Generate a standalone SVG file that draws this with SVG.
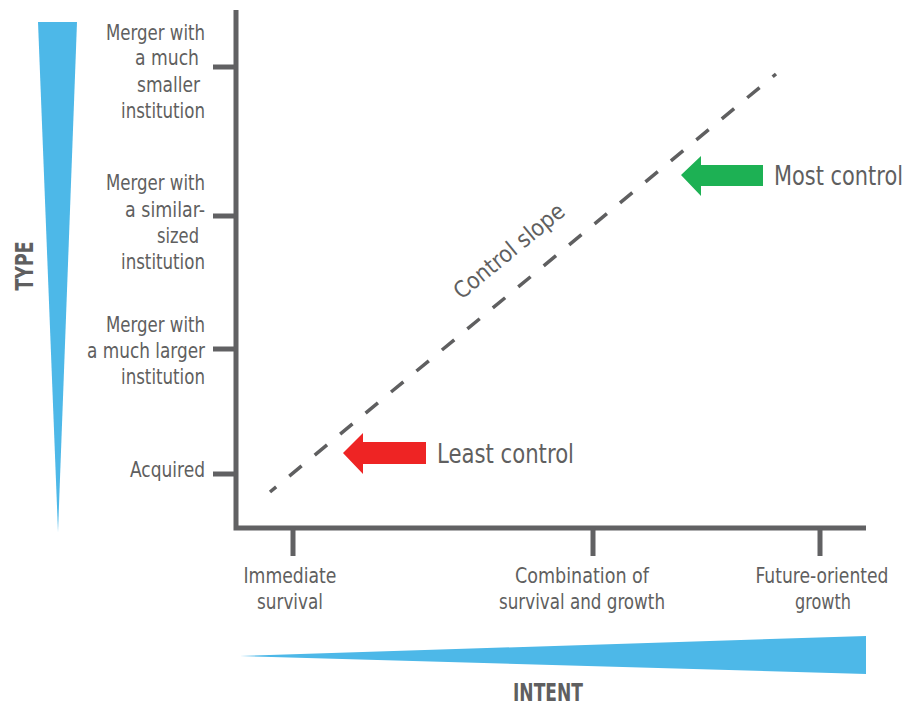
<svg xmlns="http://www.w3.org/2000/svg" width="911" height="707" viewBox="0 0 911 707">
<style>
.lbl{font-family:"DejaVu Sans Condensed","Liberation Sans",sans-serif;font-size:21px;fill:#5f5f60}
.r{text-anchor:end}
.c{text-anchor:middle}
.big{font-size:26px}
.bold{font-family:"DejaVu Sans Condensed","Liberation Sans",sans-serif;font-weight:bold;font-size:25px;fill:#5f5f60}
.axis{stroke:#616163;stroke-width:5;fill:none}
.tick{stroke:#616163;stroke-width:5}
</style>
<rect width="911" height="707" fill="#ffffff"/>
<g id="type-wedge"><polygon points="38,22 77,22 58,532" fill="#4DB8E8"/></g>
<g id="intent-wedge"><polygon points="240,656 866,636 866,674" fill="#4DB8E8"/></g>
<g id="axes">
<polyline class="axis" points="236,10 236,528 866,528"/>
<line class="tick" x1="213" y1="67" x2="236" y2="67"/>
<line class="tick" x1="213" y1="216" x2="236" y2="216"/>
<line class="tick" x1="213" y1="349" x2="236" y2="349"/>
<line class="tick" x1="213" y1="474" x2="236" y2="474"/>
<line class="tick" x1="293" y1="528" x2="293" y2="556"/>
<line class="tick" x1="593" y1="528" x2="593" y2="556"/>
<line class="tick" x1="820" y1="528" x2="820" y2="556"/>
</g>
<g id="type-labels">
<text class="lbl r" x="205" y="40" textLength="99" lengthAdjust="spacingAndGlyphs">Merger with</text>
<text class="lbl r" x="199" y="65" textLength="64" lengthAdjust="spacingAndGlyphs">a much</text>
<text class="lbl r" x="200" y="92" textLength="63" lengthAdjust="spacingAndGlyphs">smaller</text>
<text class="lbl r" x="205" y="118" textLength="84" lengthAdjust="spacingAndGlyphs">institution</text>
<text class="lbl r" x="205" y="190" textLength="99" lengthAdjust="spacingAndGlyphs">Merger with</text>
<text class="lbl r" x="205" y="217" textLength="80" lengthAdjust="spacingAndGlyphs">a similar-</text>
<text class="lbl r" x="199" y="243" textLength="42" lengthAdjust="spacingAndGlyphs">sized</text>
<text class="lbl r" x="205" y="269" textLength="84" lengthAdjust="spacingAndGlyphs">institution</text>
<text class="lbl r" x="205" y="332" textLength="99" lengthAdjust="spacingAndGlyphs">Merger with</text>
<text class="lbl r" x="205" y="358" textLength="118" lengthAdjust="spacingAndGlyphs">a much larger</text>
<text class="lbl r" x="205" y="384" textLength="84" lengthAdjust="spacingAndGlyphs">institution</text>
<text class="lbl r" x="205" y="477" textLength="75" lengthAdjust="spacingAndGlyphs">Acquired</text>
</g>
<g id="intent-labels">
<text class="lbl c" x="290" y="583" textLength="93" lengthAdjust="spacingAndGlyphs">Immediate</text>
<text class="lbl c" x="290" y="609" textLength="66" lengthAdjust="spacingAndGlyphs">survival</text>
<text class="lbl c" x="582" y="583" textLength="134" lengthAdjust="spacingAndGlyphs">Combination of</text>
<text class="lbl c" x="582" y="609" textLength="166" lengthAdjust="spacingAndGlyphs">survival and growth</text>
<text class="lbl c" x="822" y="583" textLength="133" lengthAdjust="spacingAndGlyphs">Future-oriented</text>
<text class="lbl c" x="823" y="609" textLength="56" lengthAdjust="spacingAndGlyphs">growth</text>
</g>
<text class="bold" transform="translate(33,266) rotate(-90)" text-anchor="middle" textLength="49" lengthAdjust="spacingAndGlyphs">TYPE</text>
<text class="bold" x="548" y="701" text-anchor="middle" textLength="70" lengthAdjust="spacingAndGlyphs">INTENT</text>
<g id="connectors">
<line x1="270" y1="492" x2="776" y2="74" stroke="#5f5f60" stroke-width="3.5" stroke-dasharray="16,17" stroke-dashoffset="8"/>
</g>
<text class="lbl" style="font-size:23px" transform="translate(514,257) rotate(-39.4)" text-anchor="middle" textLength="136" lengthAdjust="spacingAndGlyphs">Control slope</text>
<g id="most-control">
<polygon points="681,175 701,156 701,165 763,165 763,186 701,186 701,196" fill="#1DB154"/>
<text class="lbl big r" x="903" y="185" textLength="129" lengthAdjust="spacingAndGlyphs">Most control</text>
</g>
<g id="least-control">
<polygon points="343,453 363,433 363,442 426,442 426,464 363,464 363,474" fill="#EE2424"/>
<text class="lbl big" x="437" y="463" textLength="137" lengthAdjust="spacingAndGlyphs">Least control</text>
</g>
</svg>
